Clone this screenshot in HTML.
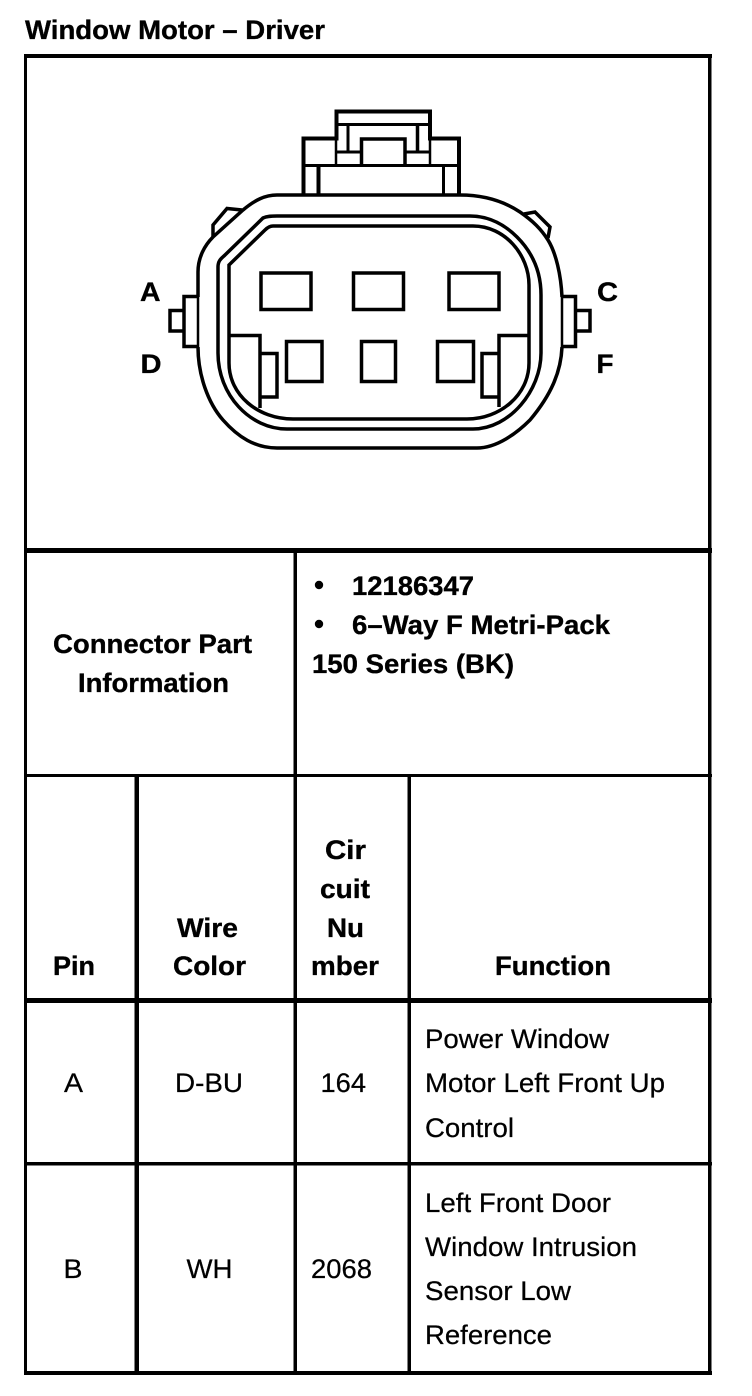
<!DOCTYPE html>
<html lang="en">
<head>
<meta charset="utf-8">
<title>Window Motor – Driver</title>
<style>
html,body{margin:0;padding:0;background:#fff;width:752px;height:1396px;overflow:hidden}
svg{display:block}
text{font-family:"Liberation Sans",Arial,sans-serif;fill:#000}
.b{font-weight:bold;font-size:27px;stroke:#000;stroke-width:.35px}
.r{font-size:27px;stroke:#000;stroke-width:.25px}
</style>
</head>
<body>
<svg xmlns="http://www.w3.org/2000/svg" width="752" height="1396" viewBox="0 0 752 1396">
<rect width="752" height="1396" fill="#fff"/>

<!-- table lines -->
<g fill="#000">
<rect x="24" y="54" width="688" height="4"/>
<rect x="24" y="548" width="688" height="5"/>
<rect x="24" y="774" width="688" height="3"/>
<rect x="24" y="998" width="688" height="5"/>
<rect x="24" y="1162" width="688" height="3.500"/>
<rect x="24" y="1371" width="688" height="4"/>
<rect x="24" y="54" width="3" height="1321"/>
<rect x="708" y="54" width="3.500" height="1321"/>
<rect x="293.500" y="550" width="3.500" height="825"/>
<rect x="134.500" y="775" width="4.500" height="600"/>
<rect x="407.500" y="775" width="3.500" height="600"/>
</g>

<!-- connector -->
<g fill="none" stroke="#000" stroke-width="3.500">
<!-- outer shell -->
<path d="M277,195 H460 C485,195 505,202 520,212 C533,221 541,229 548,240 C556,253 561,275 562,297"/>
<path d="M562,347 C561,372 551,395 530,420 C517,433 497,448 477,448 H277 C255,448 238,437 223,420 C208,403 198,375 198,347"/>
<path d="M198,297 V272 C198,257 205,245 213,237 L243,210 C255,200 265,195 277,195"/>
<path d="M198,296 V348 M562,296 V348" stroke-width="2.500"/>
<!-- middle and inner shells -->
<path d="M277,216 H470 C490,216 506,226 517,237 C531,251 541,270 541,295 V353 C541,390 510,429 473,429 H287 C250,429 218,395 218,353 V267 C218,260 222,258 225,255 L263,218 C267,216 272,216 277,216 Z"/>
<path d="M273,226 H473 C505,226 529,255 529,285 V363 C529,395 500,419 467,419 H293 C258,419 229,395 229,363 V265 L265,230 C268,227 270,226 273,226 Z"/>
<!-- angled bumps -->
<path d="M213,237 L213,225 L227,208.500 L242,210"/>
<path d="M524,214 L535,212 L550,227 L548,238"/>
<!-- side tabs -->
<path d="M198,296.500 H184 V346.500 H198"/>
<path d="M184,310.500 H170 V331 H184"/>
<path d="M562,296.500 H575.500 V346.500 H562"/>
<path d="M575.500,310.500 H590 V331 H575.500"/>
<!-- pins -->
<rect x="261" y="273" width="50" height="36.500"/>
<rect x="353.500" y="273" width="50" height="36.500"/>
<rect x="449" y="273" width="50" height="36.500"/>
<rect x="286.500" y="341.500" width="35.500" height="40"/>
<rect x="361.500" y="341.500" width="34" height="40"/>
<rect x="437.500" y="341.500" width="36" height="40"/>
<!-- corner blocks -->
<path d="M229,335.500 H260 V408"/>
<path d="M529,335.500 H499 V407"/>
<path d="M260,353.500 H277 V397 H260"/>
<path d="M499,353.500 H482 V397 H499"/>
<!-- top latch -->
<path d="M303.500,195 V138.500 H336.500 V111.500 H430 V138.500 H459 V195" stroke-width="4"/>
<path d="M338,124.500 H429" stroke-width="3"/>
<path d="M303,165.500 H459" stroke-width="3"/>
<path d="M318.500,165 V195" stroke-width="4"/>
<path d="M443.500,165 V195" stroke-width="3"/>
<path d="M336,138 V165" stroke-width="2.500"/>
<path d="M430,138 V165" stroke-width="2.500"/>
<path d="M348,124 V152" stroke-width="3"/>
<path d="M417.500,124 V152" stroke-width="3.500"/>
<path d="M336,152 H361" stroke-width="3"/>
<path d="M405,152 H431" stroke-width="3"/>
<path d="M361.500,165 V139 H405 V165" stroke-width="3.500"/>
</g>

<!-- pin letters -->
<text class="b" x="140" y="301" textLength="20.500" lengthAdjust="spacingAndGlyphs">A</text>
<text class="b" x="140.500" y="373" textLength="21" lengthAdjust="spacingAndGlyphs">D</text>
<text class="b" x="597" y="301" textLength="21" lengthAdjust="spacingAndGlyphs">C</text>
<text class="b" x="596.500" y="373" textLength="17" lengthAdjust="spacingAndGlyphs">F</text>

<!-- title -->
<text class="b" x="25" y="39" textLength="300" lengthAdjust="spacingAndGlyphs">Window Motor – Driver</text>

<!-- connector part information -->
<text class="b" x="53" y="653" textLength="199" lengthAdjust="spacingAndGlyphs">Connector Part</text>
<text class="b" x="78" y="692" textLength="151" lengthAdjust="spacingAndGlyphs">Information</text>
<circle cx="319" cy="585" r="4.200" fill="#000"/>
<circle cx="319" cy="624" r="4.200" fill="#000"/>
<text class="b" x="352" y="595" textLength="122" lengthAdjust="spacingAndGlyphs">12186347</text>
<text class="b" x="352" y="634" textLength="258" lengthAdjust="spacingAndGlyphs">6–Way F Metri-Pack</text>
<text class="b" x="312" y="673" textLength="202" lengthAdjust="spacingAndGlyphs">150 Series (BK)</text>

<!-- header -->
<text class="b" x="53" y="975" textLength="42" lengthAdjust="spacingAndGlyphs">Pin</text>
<text class="b" x="177" y="937" textLength="61" lengthAdjust="spacingAndGlyphs">Wire</text>
<text class="b" x="173" y="975" textLength="73" lengthAdjust="spacingAndGlyphs">Color</text>
<text class="b" x="325" y="859" textLength="41" lengthAdjust="spacingAndGlyphs">Cir</text>
<text class="b" x="320" y="898" textLength="50" lengthAdjust="spacingAndGlyphs">cuit</text>
<text class="b" x="327" y="937" textLength="37" lengthAdjust="spacingAndGlyphs">Nu</text>
<text class="b" x="311" y="975" textLength="68" lengthAdjust="spacingAndGlyphs">mber</text>
<text class="b" x="495" y="975" textLength="116" lengthAdjust="spacingAndGlyphs">Function</text>

<!-- row A -->
<text class="r" x="64" y="1092" textLength="19" lengthAdjust="spacingAndGlyphs">A</text>
<text class="r" x="175" y="1092" textLength="68" lengthAdjust="spacingAndGlyphs">D-BU</text>
<text class="r" x="320.500" y="1092" textLength="45.500" lengthAdjust="spacingAndGlyphs">164</text>
<text class="r" x="425" y="1048" textLength="184" lengthAdjust="spacingAndGlyphs">Power Window</text>
<text class="r" x="425" y="1092" textLength="240" lengthAdjust="spacingAndGlyphs">Motor Left Front Up</text>
<text class="r" x="425" y="1137" textLength="89" lengthAdjust="spacingAndGlyphs">Control</text>

<!-- row B -->
<text class="r" x="63.500" y="1278" textLength="19" lengthAdjust="spacingAndGlyphs">B</text>
<text class="r" x="186.500" y="1278" textLength="46" lengthAdjust="spacingAndGlyphs">WH</text>
<text class="r" x="311" y="1278" textLength="61" lengthAdjust="spacingAndGlyphs">2068</text>
<text class="r" x="425" y="1212" textLength="186" lengthAdjust="spacingAndGlyphs">Left Front Door</text>
<text class="r" x="425" y="1256" textLength="212" lengthAdjust="spacingAndGlyphs">Window Intrusion</text>
<text class="r" x="425" y="1300" textLength="146" lengthAdjust="spacingAndGlyphs">Sensor Low</text>
<text class="r" x="425" y="1344" textLength="127" lengthAdjust="spacingAndGlyphs">Reference</text>
</svg>
</body>
</html>
